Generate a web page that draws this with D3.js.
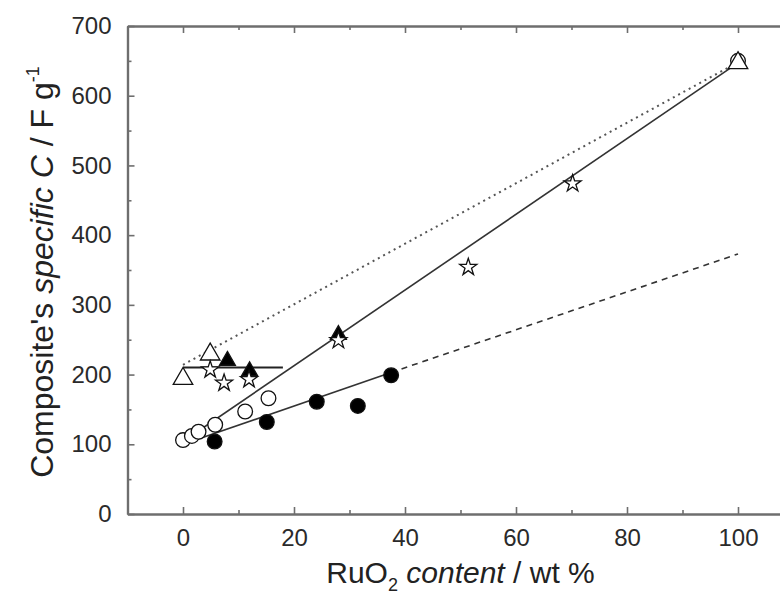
<!DOCTYPE html>
<html>
<head>
<meta charset="utf-8">
<script src="https://cdn.jsdelivr.net/npm/d3@7/dist/d3.min.js"></script>
<style>
  html, body { margin: 0; padding: 0; background: #fff; }
  svg { display: block; font-family: "Liberation Sans", Arial, sans-serif; }
</style>
</head>
<body>
<svg id="chart" width="780" height="597"></svg>
<script>
// Measured series (RuO2 wt % vs. composite specific capacitance, F/g)
const openCircleX   = [0, 1.6, 2.8, 5.8, 11.2, 15.4, 100];
const openCircleY   = [106, 112, 118, 128, 147, 166, 650];
const filledCircleX = [5.7, 15.1, 24.1, 31.5, 37.5];
const filledCircleY = [104, 132, 161, 155, 199];
const openTriX      = [0, 4.9, 100];
const openTriY      = [194, 229, 647];
const filledTriX    = [8, 12, 28];
const filledTriY    = [220, 205, 257];
const starX         = [4.9, 7.4, 11.9, 28, 51.4, 70.2];
const starY         = [207, 188, 193, 249, 354, 474];

// Trend lines (end points)
const solidFitX     = [0, 100];
const solidFitY     = [104, 647];
const dottedFitX    = [0, 100];
const dottedFitY    = [214, 648];
const flatFitX      = [0, 18];
const flatFitY      = [210, 210];
const filledFitX    = [0, 37.5];
const filledFitY    = [100, 203];
const filledExtX    = [37.5, 100];
const filledExtY    = [203, 373];

// Axis ticks
const xMajorTicks = [0, 20, 40, 60, 80, 100];
const xMinorTicks = [-10, 10, 30, 50, 70, 90, 110];
const yMajorTicks = [0, 100, 200, 300, 400, 500, 600, 700];
const yMinorTicks = [50, 150, 250, 350, 450, 550, 650];

const svg = d3.select("#chart");
const plotLeft = 127.5, plotRight = 793.5, plotTop = 26, plotBottom = 514;

const x = d3.scaleLinear().domain([-10, 110]).range([plotLeft, plotRight]);
const y = d3.scaleLinear().domain([0, 700]).range([plotBottom, plotTop]);

const axisColor = "#6e6e6e";
const pts = (xs, ys) => xs.map((v, i) => [v, ys[i]]);

function styleAxis(g) {
  g.select(".domain").attr("stroke", axisColor).attr("stroke-width", 2.2);
  g.selectAll(".tick line").attr("stroke", axisColor).attr("stroke-width", 1.6);
  g.selectAll(".tick text").attr("fill", "#2a2a2a").attr("font-size", 24)
    .attr("font-family", "Liberation Sans, Arial, sans-serif");
}

// bottom axis
svg.append("g").attr("transform", `translate(0,${plotBottom})`)
  .call(d3.axisBottom(x).tickValues(xMajorTicks).tickSizeInner(-7).tickSizeOuter(0).tickPadding(15).tickFormat(d3.format("d")))
  .call(styleAxis);
svg.append("g").attr("transform", `translate(0,${plotBottom})`)
  .call(d3.axisBottom(x).tickValues(xMinorTicks).tickSizeInner(-4).tickSizeOuter(0).tickFormat(""))
  .call(styleAxis);
// top axis
svg.append("g").attr("transform", `translate(0,${plotTop})`)
  .call(d3.axisTop(x).tickValues(xMajorTicks).tickSizeInner(-7).tickSizeOuter(0).tickFormat(""))
  .call(styleAxis);
svg.append("g").attr("transform", `translate(0,${plotTop})`)
  .call(d3.axisTop(x).tickValues(xMinorTicks).tickSizeInner(-4).tickSizeOuter(0).tickFormat(""))
  .call(styleAxis);
// left axis
svg.append("g").attr("transform", `translate(${plotLeft},0)`)
  .call(d3.axisLeft(y).tickValues(yMajorTicks).tickSizeInner(-7).tickSizeOuter(0).tickPadding(16).tickFormat(d3.format("d")))
  .call(styleAxis);
svg.append("g").attr("transform", `translate(${plotLeft},0)`)
  .call(d3.axisLeft(y).tickValues(yMinorTicks).tickSizeInner(-4).tickSizeOuter(0).tickFormat(""))
  .call(styleAxis);
// right axis
svg.append("g").attr("transform", `translate(${plotRight},0)`)
  .call(d3.axisRight(y).tickValues(yMajorTicks).tickSizeInner(-7).tickSizeOuter(0).tickFormat(""))
  .call(styleAxis);

// trend lines
const line = d3.line().x(d => x(d[0])).y(d => y(d[1]));
const plot = svg.append("g");
plot.append("path").datum(pts(dottedFitX, dottedFitY)).attr("d", line)
  .attr("fill", "none").attr("stroke", "#555").attr("stroke-width", 2).attr("stroke-dasharray", "2,4");
plot.append("path").datum(pts(solidFitX, solidFitY)).attr("d", line)
  .attr("fill", "none").attr("stroke", "#333").attr("stroke-width", 1.6);
plot.append("path").datum(pts(filledFitX, filledFitY)).attr("d", line)
  .attr("fill", "none").attr("stroke", "#333").attr("stroke-width", 1.6);
plot.append("path").datum(pts(filledExtX, filledExtY)).attr("d", line)
  .attr("fill", "none").attr("stroke", "#333").attr("stroke-width", 1.6).attr("stroke-dasharray", "6,5");
plot.append("path").datum(pts(flatFitX, flatFitY)).attr("d", line)
  .attr("fill", "none").attr("stroke", "#222").attr("stroke-width", 2);

// markers
function markers(xs, ys, type, size, fill) {
  plot.append("g").selectAll("path").data(pts(xs, ys)).join("path")
    .attr("transform", d => `translate(${x(d[0])},${y(d[1])})`)
    .attr("d", d3.symbol().type(type).size(size))
    .attr("fill", fill).attr("stroke", "#111").attr("stroke-width", 1.3);
}
markers(openCircleX, openCircleY, d3.symbolCircle, 170, "#fff");
markers(filledCircleX, filledCircleY, d3.symbolCircle, 170, "#000");
markers(openTriX, openTriY, d3.symbolTriangle, 165, "#fff");
markers(filledTriX, filledTriY, d3.symbolTriangle, 110, "#000");
markers(starX, starY, d3.symbolStar, 90, "#fff");

// axis titles
const xt = svg.append("text").attr("x", (plotLeft + plotRight) / 2).attr("y", 583)
  .attr("text-anchor", "middle").attr("font-size", 30).attr("fill", "#222");
xt.append("tspan").text("RuO");
xt.append("tspan").attr("font-size", 18).attr("dy", 8).text("2");
xt.append("tspan").attr("dy", -8).text(" ");
xt.append("tspan").attr("font-style", "italic").text("content");
xt.append("tspan").text(" / wt %");

const yt = svg.append("text").attr("transform", `translate(53,272) rotate(-90)`)
  .attr("text-anchor", "middle").attr("font-size", 32).attr("fill", "#222");
yt.append("tspan").text("Composite's ");
yt.append("tspan").attr("font-style", "italic").text("specific C");
yt.append("tspan").text(" / F g");
yt.append("tspan").attr("font-size", 18).attr("dy", -14).text("-1");
</script>
</body>
</html>
